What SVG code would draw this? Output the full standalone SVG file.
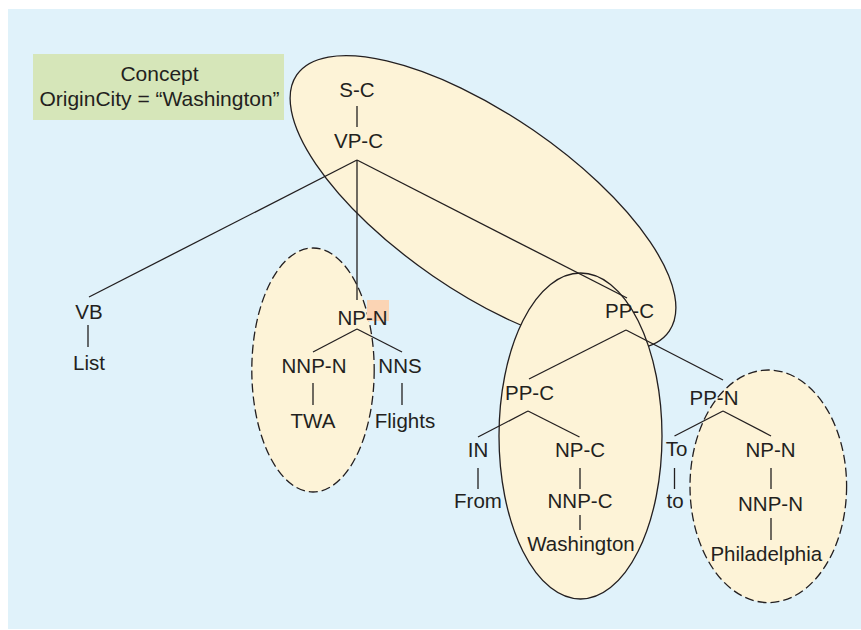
<svg xmlns="http://www.w3.org/2000/svg" width="861" height="630" viewBox="0 0 861 630">
  <style>
    .lbl { font-family: "Liberation Sans", Arial, Helvetica, sans-serif; font-size: 20.5px; fill: #231f20; text-anchor: middle; }
    .cpt { font-family: "Liberation Sans", Arial, Helvetica, sans-serif; font-size: 21px; fill: #231f20; text-anchor: middle; }
    .region { fill: #fdf3d7; stroke: #231f20; stroke-width: 1.3; }
    .dashed { stroke-dasharray: 9 4; }
    .edge { stroke: #231f20; stroke-width: 1.3; fill: none; }
  </style>

  <!-- panel background -->
  <rect x="8" y="9" width="853" height="620" fill="#e0f2fa"/>

  <!-- concept annotation -->
  <g id="concept">
    <rect x="33" y="54" width="251" height="66" fill="#d6e6b9"/>
    <text class="cpt" x="159.5" y="81">Concept</text>
    <text class="cpt" x="159.5" y="106">OriginCity = “Washington”</text>
  </g>

  <!-- grouping regions -->
  <g id="regions">
    <ellipse id="region-sc" class="region" cx="483" cy="203" rx="226" ry="88.5" transform="rotate(34.5 483 203)"/>
    <ellipse id="region-twa" class="region dashed" cx="313" cy="370" rx="61.2" ry="122"/>
    <ellipse id="region-washington" class="region" cx="580.5" cy="436" rx="81.5" ry="163"/>
    <ellipse id="region-philadelphia" class="region dashed" cx="768.3" cy="486.3" rx="78.3" ry="116.3"/>
  </g>

  <!-- highlight behind NP-N -->
  <rect x="367" y="300" width="22" height="21" fill="#fbd4b4"/>

  <!-- tree edges -->
  <g id="connectors" class="edge">
    <line x1="357" y1="106" x2="357" y2="127"/>
    <line x1="357" y1="160" x2="89" y2="297"/>
    <line x1="357" y1="160" x2="357" y2="300"/>
    <line x1="357" y1="160" x2="627" y2="298"/>
    <line x1="88" y1="325" x2="88" y2="347"/>
    <line x1="357" y1="329" x2="313" y2="352"/>
    <line x1="357" y1="329" x2="402" y2="352"/>
    <line x1="313" y1="383" x2="313" y2="405"/>
    <line x1="402" y1="383" x2="402" y2="405"/>
    <line x1="626" y1="330" x2="529" y2="379"/>
    <line x1="626" y1="330" x2="723" y2="380"/>
    <line x1="528" y1="411" x2="478" y2="437"/>
    <line x1="528" y1="411" x2="579.5" y2="437"/>
    <line x1="478" y1="468" x2="478" y2="489"/>
    <line x1="580" y1="468" x2="580" y2="489"/>
    <line x1="580" y1="515" x2="580" y2="530"/>
    <line x1="723" y1="411" x2="674.5" y2="436"/>
    <line x1="723" y1="411" x2="771" y2="436"/>
    <line x1="674.5" y1="468" x2="674.5" y2="489"/>
    <line x1="771" y1="468" x2="771" y2="489"/>
    <line x1="771" y1="518" x2="771" y2="540"/>
  </g>

  <!-- tree nodes -->
  <g id="node-s-c"><text class="lbl" x="357" y="97">S-C</text></g>
  <g id="node-vp-c"><text class="lbl" x="358.5" y="148">VP-C</text></g>
  <g id="node-vb"><text class="lbl" x="89" y="319">VB</text></g>
  <g id="node-list"><text class="lbl" x="89" y="370">List</text></g>
  <g id="node-np-n"><text class="lbl" x="362.5" y="325">NP-N</text></g>
  <g id="node-nnp-n"><text class="lbl" x="314" y="373">NNP-N</text></g>
  <g id="node-nns"><text class="lbl" x="400" y="373">NNS</text></g>
  <g id="node-twa"><text class="lbl" x="313" y="428">TWA</text></g>
  <g id="node-flights"><text class="lbl" x="405" y="428">Flights</text></g>
  <g id="node-pp-c"><text class="lbl" x="629.5" y="318">PP-C</text></g>
  <g id="node-pp-c-from"><text class="lbl" x="529.5" y="400">PP-C</text></g>
  <g id="node-in"><text class="lbl" x="478" y="457">IN</text></g>
  <g id="node-from"><text class="lbl" x="478" y="508">From</text></g>
  <g id="node-np-c"><text class="lbl" x="580" y="457">NP-C</text></g>
  <g id="node-nnp-c"><text class="lbl" x="580" y="508">NNP-C</text></g>
  <g id="node-washington"><text class="lbl" x="581" y="551">Washington</text></g>
  <g id="node-pp-n"><text class="lbl" x="714" y="405">PP-N</text></g>
  <g id="node-to-tag"><text class="lbl" x="676.5" y="456">To</text></g>
  <g id="node-to-word"><text class="lbl" x="675" y="508">to</text></g>
  <g id="node-np-n-dest"><text class="lbl" x="770.5" y="457">NP-N</text></g>
  <g id="node-nnp-n-dest"><text class="lbl" x="770.5" y="511">NNP-N</text></g>
  <g id="node-philadelphia"><text class="lbl" x="766.3" y="561">Philadelphia</text></g>
</svg>
